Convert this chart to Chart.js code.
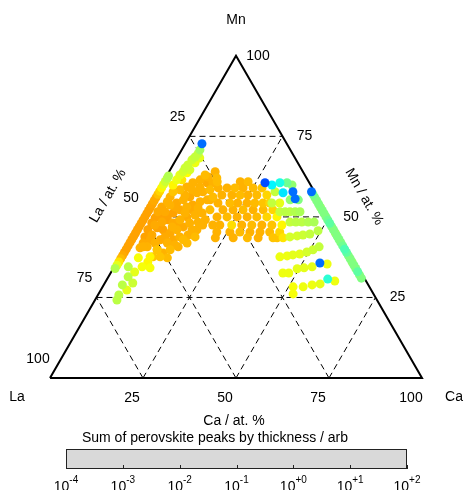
<!DOCTYPE html>
<html><head><meta charset="utf-8">
<script src="https://cdn.jsdelivr.net/npm/chart.js@4/dist/chart.umd.min.js"></script>
<style>html,body{margin:0;padding:0;background:#fff;}canvas{display:block;}</style>
</head><body>
<canvas id="c" width="464" height="490"></canvas>
<script>
// ---- axis / tick data ----
const gridTicks = [25, 50, 75];
const axisTicks = [25, 50, 75, 100];
const vertexNames = {La: 'La', Mn: 'Mn', Ca: 'Ca'};
const axisTitles = {ca: 'Ca / at. %', la: 'La / at. %', mn: 'Mn / at. %'};
const cbTitle = 'Sum of perovskite peaks by thickness / arb';
const cbTickExp = [-4, -3, -2, -1, 0, 1, 2];
const cbTickLabels = ['-4', '-3', '-2', '-1', '+0', '+1', '+2'];
const CB_MIN = -4, CB_MAX = 2;

// ---- point data: [Ca at.%, Mn at.%, log10(sum of perovskite peaks)] ----
const edgeLaMn = [
 [0.5,34,-0.7],[0.5,35,-0.4],[0.5,36,-0.1],[0.5,37,0.15],[0.5,38,0.25],[0.5,39,0.3],[0.5,40,0.3],[0.5,41,0.3],
 [0.5,42,0.3],[0.5,43,0.3],[0.5,44,0.3],[0.5,45,0.3],[0.5,46,0.3],[0.5,47,0.3],[0.5,48,0.3],[0.5,49,0.3],
 [0.5,50,0.3],[0.5,51,0.3],[0.5,52,0.3],[0.5,53,0.3],[0.5,54,0.28],[0.5,55,0.25],[0.5,56,0.25],[0.5,57,0.12],
 [0.5,58,0.0],[0.5,59,-0.2],[0.5,60,-0.4],[0.5,61,-0.55],[0.5,62,-0.65],[0.5,62.7,-0.7]
];
const edgeMnCa = [
 [41.4,57.8,-2.6],[42.2,57,-1.1],[43.2,56,-1.0],[44.2,55,-1.0],[45.2,54,-1.0],[46.2,53,-0.9],[47.2,52,-1.0],
 [48.2,51,-1.0],[49.2,50,-1.0],[50.2,49,-1.1],[51.2,48,-1.2],[52.2,47,-1.0],[53.2,46,-1.0],[54.2,45,-0.9],
 [55.2,44,-1.0],[56.2,43,-1.0],[57.2,42,-1.0],[58.2,41,-1.1],[59.2,40,-1.3],[60.2,39,-1.2],[61.2,38,-1.0],
 [62.2,37,-1.0],[63.2,36,-0.9],[64.2,35,-1.0],[65.2,34,-1.0],[66.2,33,-1.2],[67.2,32,-1.0],[68.2,31,-1.0]
];
const blobLeft = [
 [12.4,64.0,0.2],[11.3,62.4,0.2],[13.8,62.1,0.15],[11.9,60.6,0.25],[9.6,61.5,0.2],[8.1,60.6,0.2],[7.1,59.3,0.2],
 [5.7,58.4,0.15],[4.2,57.8,0.1],[4.2,56.2,0.2],[4.2,54.7,0.2],[3.5,53.1,0.25],[3.2,51.6,0.25],[3.4,49.7,0.3],
 [3.3,48.1,0.3],[3.3,46.0,0.3],[3.6,43.8,0.3],[4.1,41.9,0.25],[4.0,40.4,0.2],
 [6.9,54.3,0.25],[8.2,55.3,0.2],[9.5,56.2,0.25],[10.8,57.5,0.2],[12.2,57.8,0.2],[13.8,58.4,0.15],
 [7.5,51.2,0.3],[8.8,52.2,0.25],[10.2,53.1,0.2],[11.5,53.7,0.25],[13.0,54.7,0.2],[14.6,55.3,0.2],[15.7,56.2,0.15],
 [7.0,49.1,0.3],[9.0,48.1,0.25],[10.4,49.1,0.2],[11.8,50.0,0.25],[13.7,50.6,0.2],[15.3,51.2,0.2],[16.9,52.2,0.15],
 [7.4,46.0,0.3],[9.8,45.0,0.25],[11.1,46.0,0.2],[12.4,46.9,0.25],[13.5,48.1,0.2],[15.6,48.4,0.2],[17.2,49.1,0.2],
 [8.2,42.9,0.25],[10.6,41.9,0.2],[11.7,42.9,0.25],[13.0,43.8,0.2],[14.9,44.4,0.2],[16.5,46.0,0.2],
 [8.9,39.8,0.2],[11.0,38.8,0.2],[12.4,39.8,0.15],[14.1,40.7,0.2],[15.9,41.9,0.15],
 [10.8,37.6,0.1],[12.9,37.3,0.15],[5.8,40.7,0.2],
 [5.2,44.4,0.25],[5.5,46.6,0.3],[5.9,48.4,0.25],[6.4,50.6,0.3],[7.0,53.1,0.25],[7.9,56.8,0.2],[9.0,58.4,0.2],
 [10.6,59.3,0.2],[10.2,63.0,0.15],[7.3,41.9,0.2],[5.5,42.9,0.25],[9.0,43.8,0.25],[9.4,46.9,0.2],[10.2,48.4,0.25],
 [10.7,51.2,0.2],[12.1,52.2,0.25],[13.4,52.8,0.2],[12.9,41.3,0.2],[14.4,42.9,0.15],[15.2,46.0,0.2],[17.3,47.5,0.2],
 [17.1,43.8,0.15],[5.4,53.7,0.2],[5.1,51.6,0.25],[4.8,49.7,0.3],[4.4,47.5,0.25],[13.5,60.6,0.2],[15.4,55.3,0.2]
];
const bandMiddle = [
 [14.5,60.9,0.15],[20.7,60.9,0.2],[22.8,60.9,0.15],
 [15.7,59.0,0.2],[18.1,59.0,0.2],[20.2,59.0,0.15],[22.4,59.0,0.2],[25.1,59.0,0.15],[27.5,59.0,0.1],
 [17.8,56.8,0.2],[20.5,56.8,0.2],[22.7,56.8,0.15],[24.8,56.8,0.2],[27.2,56.8,0.15],[29.9,56.8,0.0],
 [18.0,54.3,0.2],[21.2,54.3,0.15],[23.3,54.3,0.2],[25.8,54.3,0.2],[27.9,54.3,0.15],[30.1,54.3,0.1],[31.9,54.3,0.0],
 [20.4,52.2,0.2],[23.1,52.2,0.2],[25.8,52.2,0.15],[28.5,52.2,0.2],[31.2,52.2,0.15],[33.8,52.2,0.0],
 [19.9,50.0,0.2],[22.6,50.0,0.15],[25.3,50.0,0.2],[28.0,50.0,0.2],[30.6,50.0,0.15],[33.3,50.0,0.0],[36.0,50.0,-0.2],
 [20.0,47.5,0.2],[21.9,47.5,0.2],[25.1,47.5,-0.05],[27.8,47.5,0.2],[30.5,47.5,0.15],[33.2,47.5,0.2],[35.9,47.5,0.1],[38.6,47.5,-0.2],
 [22.2,45.3,0.2],[25.7,45.3,0.2],[28.4,45.3,0.15],[31.1,45.3,0.2],[33.8,45.3,0.2],[36.4,45.3,0.15],[39.1,45.3,0.0],
 [22.7,43.5,0.2],[27.5,43.5,0.2],[31.3,43.5,0.15],[34.2,43.5,0.2],[38.2,43.5,0.1]
];
const clusterRight = [
 [27.5,60.6,-2.8],[29.7,59.9,-1.8],[31.5,60.6,-1.6],[33.4,60.6,-1.1],[35.1,59.9,-0.9],[31.6,57.8,-0.6],
 [33.9,57.5,-1.9],[36.4,57.8,-2.6],[38.1,55.6,-2.6],[36.9,55.3,-0.9],[39.1,55.3,-1.0],[34.6,54.3,-0.4],[32.5,54.3,-0.6]
];
const rowsRight = [
 [36.0,51.6,-0.6],[37.4,51.6,-0.65],[38.7,51.6,-0.65],[40.1,51.6,-0.7],[41.4,51.6,-0.75],
 [40.3,48.4,-0.6],[41.9,48.4,-0.65],[43.5,48.4,-0.65],[45.2,48.4,-0.7],[46.8,48.4,-0.75],
 [42.6,43.8,-0.5],[44.4,44.1,-0.5],[45.8,44.4,-0.55],[47.5,44.7,-0.6],[49.2,45.7,-0.65],[39.3,43.5,0.1],[40.9,43.5,-0.1],
 [43.0,37.6,-0.35],[44.8,37.9,-0.35],[46.2,38.2,-0.4],[47.9,38.5,-0.4],[49.5,39.1,-0.5],[50.8,39.8,-0.55],[52.0,40.7,-0.6],
 [46.3,32.6,-0.35],[47.9,32.6,-0.35],[49.5,33.9,-0.4],[51.2,34.2,-0.4],[53.2,34.5,-0.4],[54.7,35.7,-2.6],[56.8,35.4,-0.35],
 [51.2,28.3,-0.3],[53.9,28.3,-0.35],[56.0,28.9,-0.35],[58.0,29.2,-0.4],[59.3,30.7,-1.5],[61.5,30.1,-0.35],[52.3,26.1,-0.3]
];
const streak = [
 [4.5,72.7,-2.6],[4.9,70.8,-0.8],[5.0,69.6,-0.6],[4.7,68.6,-0.6],[4.3,67.7,-0.55],[6.1,68.3,-0.4],[4.0,66.1,-0.55],
 [3.7,65.2,-0.55],[3.8,64.0,-0.5],[3.4,63.0,-0.4],[3.3,61.5,-0.35],[3.1,59.9,-0.2],[5.6,66.8,-0.35],[5.3,64.6,-0.5],
 [5.0,63.7,-0.25],[4.7,61.5,-0.1]
];
const tail = [
 [5.1,37.3,-0.3],[3.8,34.5,-0.65],[6.3,32.9,-0.4],[7.5,34.5,-0.3],[5.0,28.9,-0.65],[7.0,27.3,-0.4],[7.5,29.5,-0.55],
 [5.9,24.2,-0.65],[5.6,25.8,-0.65],[8.3,36.0,-0.2],[8.9,37.6,0.1],[8.9,39.8,0.1],[4.7,40.7,0.2],[9.8,34.2,-0.3],
 [5.3,31.4,-0.65],[8.1,37.6,-0.2]
];

// ---- helpers ----
const S3 = Math.sqrt(3) / 2;
function tern(ca, mn) { return {x: ca + mn / 2, y: mn * S3}; }
function jet(v) {
  const t = Math.min(1, Math.max(0, (v - CB_MIN) / (CB_MAX - CB_MIN)));
  const f = a => Math.round(255 * Math.min(1, Math.max(0, 1.5 - Math.abs(4 * t - a))));
  return `rgb(${f(3)},${f(2)},${f(1)})`;
}

const allPts = [].concat(edgeLaMn, edgeMnCa, blobLeft, bandMiddle, tail, streak, clusterRight, rowsRight)
  .slice().sort((a, b) => b[2] - a[2]); // low values drawn last (on top)

const datasets = [];
// points (on top)
datasets.push({
  data: allPts.map(p => tern(p[0], p[1])),
  pointBackgroundColor: allPts.map(p => jet(p[2])),
  pointBorderWidth: 0, pointRadius: 4.5, showLine: false, order: 0
});
// triangle
datasets.push({
  data: [tern(0, 0), tern(100, 0), tern(0, 100), tern(0, 0)],
  showLine: true, borderColor: '#000', borderWidth: 2, pointRadius: 0,
  borderJoinStyle: 'miter', order: 1
});
// grid lines
gridTicks.forEach(t => {
  [[tern(0, t), tern(100 - t, t)], [tern(t, 0), tern(t, 100 - t)], [tern(100 - t, 0), tern(0, 100 - t)]]
    .forEach(seg => datasets.push({
      data: seg, showLine: true, borderColor: '#000', borderWidth: 1,
      borderDash: [6, 4], pointRadius: 0, order: 2
    }));
});

const FONT = '"Liberation Sans", Arial, sans-serif';
const textPlugin = {
  id: 'ternText',
  afterDraw(chart) {
    const ctx = chart.ctx, sx = chart.scales.x, sy = chart.scales.y;
    const P = (ca, mn) => { const p = tern(ca, mn); return [sx.getPixelForValue(p.x), sy.getPixelForValue(p.y)]; };
    ctx.save();
    ctx.fillStyle = '#000';
    ctx.font = '14px ' + FONT;
    ctx.textAlign = 'center';
    ctx.textBaseline = 'middle';
    let q;
    q = P(0, 100); ctx.fillText(vertexNames.Mn, q[0], q[1] - 36);
    q = P(0, 0); ctx.fillText(vertexNames.La, q[0] - 33, q[1] + 19);
    q = P(100, 0); ctx.fillText(vertexNames.Ca, q[0] + 32, q[1] + 19);
    axisTicks.forEach(t => {
      q = P(t, 0); ctx.fillText(String(t), q[0] - 11, q[1] + 20);          // Ca
      q = P(0, 100 - t); ctx.fillText(String(t), q[0] - 12, q[1] - 19);    // La
      q = P(100 - t, t); ctx.fillText(String(t), q[0] + 22, q[1]);         // Mn
    });
    q = P(50, 0); ctx.fillText(axisTitles.ca, q[0] - 2, q[1] + 43);
    q = P(0, 50);
    ctx.save(); ctx.translate(q[0] - 35, q[1] - 21); ctx.rotate(-Math.PI / 3);
    ctx.fillText(axisTitles.la, 0, 0); ctx.restore();
    q = P(50, 50);
    ctx.save(); ctx.translate(q[0] + 35, q[1] - 20); ctx.rotate(Math.PI / 3);
    ctx.fillText(axisTitles.mn, 0, 0); ctx.restore();

    // colorbar
    const L = 66, R = 407, T = 449, B = 469;
    ctx.fillText(cbTitle, 215, 438);
    ctx.fillStyle = '#d9d9d9';
    ctx.fillRect(L, T, R - L, B - T);
    ctx.strokeStyle = '#222'; ctx.lineWidth = 1;
    ctx.strokeRect(L + 0.5, T + 0.5, R - L - 1, B - T - 1);
    ctx.fillStyle = '#000';
    cbTickExp.forEach((e, i) => {
      const x = L + (e - CB_MIN) / (CB_MAX - CB_MIN) * (R - L);
      const xx = Math.round(x) + 0.5;
      ctx.beginPath(); ctx.moveTo(xx, B); ctx.lineTo(xx, B - 4); ctx.stroke();
      ctx.font = '14px ' + FONT;
      const w1 = ctx.measureText('10').width;
      ctx.font = '10px ' + FONT;
      const w2 = ctx.measureText(cbTickLabels[i]).width;
      const x0 = x - (w1 + w2) / 2;
      ctx.textAlign = 'left'; ctx.textBaseline = 'alphabetic';
      ctx.font = '14px ' + FONT; ctx.fillText('10', x0, 491);
      ctx.font = '10px ' + FONT; ctx.fillText(cbTickLabels[i], x0 + w1, 483);
    });
    ctx.restore();
  }
};

new Chart(document.getElementById('c'), {
  type: 'scatter',
  data: {datasets},
  options: {
    responsive: false, animation: false, devicePixelRatio: 1, events: [],
    layout: {padding: 0, autoPadding: false},
    plugins: {legend: {display: false}, tooltip: {enabled: false}},
    scales: {
      x: {type: 'linear', min: -13.44, max: 111.29, display: false},
      y: {type: 'linear', min: -30.1, max: 101.6, display: false}
    }
  },
  plugins: [textPlugin]
});
</script>
</body></html>
